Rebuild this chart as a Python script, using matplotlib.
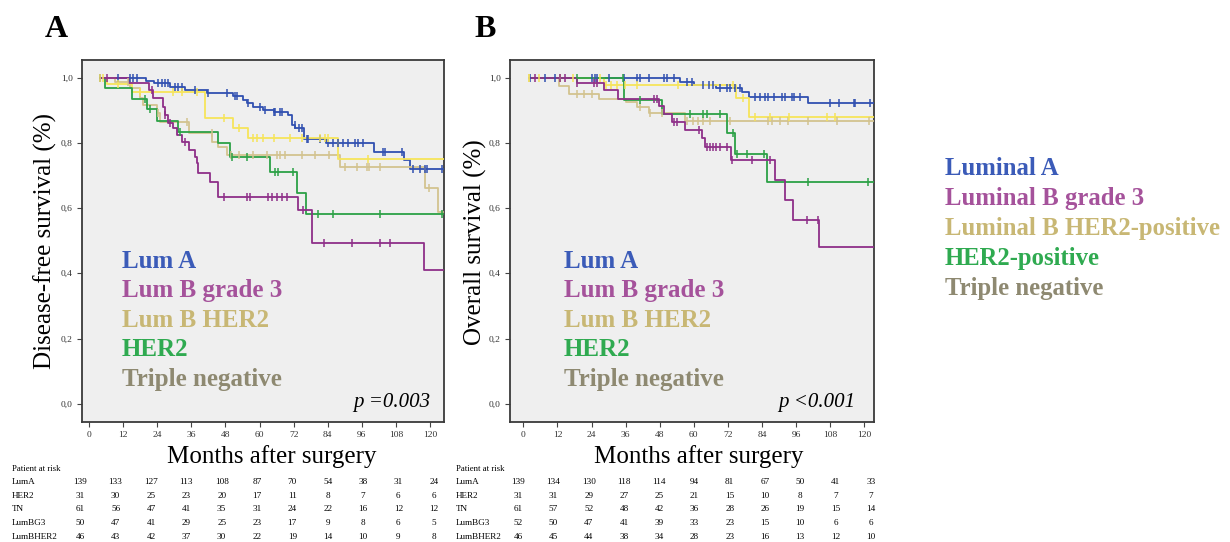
import numpy as np
import matplotlib
matplotlib.use("Agg")
import matplotlib.pyplot as plt

plt.rcParams['font.family'] = ['Liberation Serif', 'DejaVu Serif']

W, H = 1230, 542

# ---------------- data ----------------
groups = ["Lum A", "Lum B grade 3", "Lum B HER2", "HER2", "Triple negative"]
groups_long = ["Luminal A", "Luminal B grade 3", "Luminal B HER2-positive", "HER2-positive", "Triple negative"]
text_colors = ["#3B5BB8", "#A5529B", "#C8B774", "#2FAA50", "#8E8971"]

# Disease-free survival (panel A): step times / survival values
dfs_luma_t = [4, 20, 23, 28.5, 33.8, 41.4, 50.8, 54, 55.5, 57.8, 61.3, 64.9, 70, 71.4, 72.6, 75.5, 83.3, 100.2, 110.7, 113, 124.6]
dfs_luma_s = [1.0, 0.990, 0.983, 0.970, 0.962, 0.952, 0.944, 0.932, 0.921, 0.911, 0.901, 0.894, 0.886, 0.855, 0.845, 0.812, 0.799, 0.773, 0.748, 0.720, 0.720]
dfs_lumbg3_t = [4, 14, 21, 22.6, 26.1, 26.6, 27.7, 29.6, 31, 32.7, 35, 37.3, 37.9, 38.5, 42.6, 45.5, 73.5, 78.5, 117.7, 124.6]
dfs_lumbg3_s = [1.0, 0.985, 0.962, 0.937, 0.911, 0.886, 0.860, 0.845, 0.824, 0.804, 0.778, 0.758, 0.737, 0.707, 0.681, 0.634, 0.594, 0.493, 0.411, 0.411]
dfs_lumbher2_t = [4, 6.2, 15, 40.8, 50.7, 56, 87.5, 124.8]
dfs_lumbher2_s = [1.0, 0.979, 0.957, 0.875, 0.845, 0.814, 0.750, 0.750]
dfs_her2_t = [4, 5.6, 15, 20.3, 23.8, 31.4, 45.5, 49.6, 63.7, 73.2, 76.3, 124.6]
dfs_her2_s = [1.0, 0.967, 0.935, 0.904, 0.867, 0.832, 0.799, 0.758, 0.710, 0.645, 0.581, 0.581]
dfs_tn_t = [4, 9, 14.5, 18, 19.1, 23.9, 25.1, 35.3, 43.3, 45.5, 48.5, 88.4, 118.3, 122.8, 124.6]
dfs_tn_s = [1.0, 0.988, 0.967, 0.937, 0.916, 0.891, 0.865, 0.829, 0.804, 0.788, 0.763, 0.727, 0.663, 0.589, 0.589]

dfs_luma_c = [4, 10.3, 14.4, 15.6, 16.8, 24.4, 25.6, 26.7, 27.9, 30.3, 31.4, 32.6, 37.3, 42, 48.4, 51.4, 52,
              56, 60.2, 62, 64.9, 65.4, 67.2, 67.8, 72.5, 73.7, 74.8, 76.6, 77.2, 81.3, 84.2, 85.9, 87.7,
              89.5, 91.2, 93.6, 94.8, 96.5, 103.6, 104.2, 110, 114.1, 116.5, 118.3, 118.8, 124.1]
dfs_lumbg3_c = [6.2, 22, 26.7, 28.5, 33.8, 47.3, 55.5, 56.7, 63.1, 64.5, 66.2, 67.8, 69.6, 75.4, 82.5, 92.4, 102.4, 105.9]
dfs_lumbher2_c = [3.9, 4.9, 10.3, 17.9, 29.7, 32.6, 37.9, 47.3, 52.6, 57.8, 59, 61.3, 64.9, 70.7, 74.8, 81.3, 83, 84.2, 98]
dfs_her2_c = [19.7, 21.5, 32, 50.2, 55.5, 65.4, 66.6, 71.9, 80.7, 86, 102.4, 124.1]
dfs_tn_c = [13.8, 24.4, 34.4, 43.2, 50, 52.6, 57.8, 62.6, 66.2, 67.3, 69, 74.9, 79.6, 84.3, 90.2, 94.3, 97.8, 98.4, 102.5, 119.5]

# Overall survival (panel B)
os_luma_t = [2, 55, 60, 68, 77, 79.5, 100.4, 123.3]
os_luma_s = [1.0, 0.988, 0.978, 0.967, 0.957, 0.942, 0.921, 0.921]
os_lumbg3_t = [2, 18.9, 28.3, 33.5, 47.8, 49.6, 52.3, 57, 62.9, 63.8, 73, 88.5, 92.2, 95.1, 104, 123.3]
os_lumbg3_s = [1.0, 0.983, 0.962, 0.935, 0.913, 0.889, 0.864, 0.840, 0.814, 0.786, 0.748, 0.686, 0.625, 0.564, 0.482, 0.482]
os_lumbher2_t = [2, 28.3, 75, 79.3, 123.3]
os_lumbher2_s = [1.0, 0.978, 0.936, 0.880, 0.880]
os_her2_t = [2, 35.3, 49, 71.7, 74.6, 85.7, 123.3]
os_her2_s = [1.0, 0.932, 0.889, 0.829, 0.766, 0.681, 0.681]
os_tn_t = [2, 12.4, 15.9, 26.5, 36, 40, 44.1, 57, 123.3]
os_tn_s = [1.0, 0.975, 0.949, 0.935, 0.924, 0.911, 0.891, 0.866, 0.866]

os_luma_c = [2.5, 7.7, 11.3, 13, 24.2, 25.3, 25.9, 30, 35.3, 40, 41.2, 44.1, 49.4, 50.5, 52.9, 57.6, 59.4,
             63.4, 65.2, 66.9, 69.3, 71.6, 72.8, 74.5, 76.3, 81.6, 83.4, 85.2, 86.3, 88.1, 91, 92.2, 94.6,
             95.2, 97.5, 108, 111, 116.3, 116.9, 122.1]
os_lumbg3_c = [4.2, 13, 14.5, 18.9, 24.8, 26, 45.9, 47, 52.9, 54, 61.7, 64.6, 65.7, 66.9, 68, 69.2, 71.6, 73.4, 80.5, 86.9, 99.8, 103.6]
os_lumbher2_c = [1.9, 5.5, 13, 17.5, 27.1, 29, 30.8, 33, 35.8, 40, 54.6, 74, 77.5, 81.6, 86.9, 93.4, 106.9, 109.7]
os_her2_c = [18.9, 35, 41.2, 58.8, 63.4, 64.5, 69.3, 74, 75.2, 78.7, 84.6, 100.4, 121.5]
os_tn_c = [1.9, 18.9, 21.2, 24.2, 41.2, 44.5, 48.8, 57.6, 59.9, 61.6, 63.4, 65.8, 72.8, 86.3, 87.5, 90.4, 93.3, 100.4, 110.4, 121.8]

x_ticks = [0, 12, 24, 36, 48, 60, 72, 84, 96, 108, 120]
y_ticks = [0.0, 0.2, 0.4, 0.6, 0.8, 1.0]
y_tick_labels = ["0,0", "0,2", "0,4", "0,6", "0,8", "1,0"]

risk_rows = ["LumA", "HER2", "TN", "LumBG3", "LumBHER2"]
risk_a_luma = [139, 133, 127, 113, 108, 87, 70, 54, 38, 31, 24]
risk_a_her2 = [31, 30, 25, 23, 20, 17, 11, 8, 7, 6, 6]
risk_a_tn = [61, 56, 47, 41, 35, 31, 24, 22, 16, 12, 12]
risk_a_lumbg3 = [50, 47, 41, 29, 25, 23, 17, 9, 8, 6, 5]
risk_a_lumbher2 = [46, 43, 42, 37, 30, 22, 19, 14, 10, 9, 8]
risk_b_luma = [139, 134, 130, 118, 114, 94, 81, 67, 50, 41, 33]
risk_b_her2 = [31, 31, 29, 27, 25, 21, 15, 10, 8, 7, 7]
risk_b_tn = [61, 57, 52, 48, 42, 36, 28, 26, 19, 15, 14]
risk_b_lumbg3 = [52, 50, 47, 41, 39, 33, 23, 15, 10, 6, 6]
risk_b_lumbher2 = [46, 45, 44, 38, 34, 28, 23, 16, 13, 12, 10]

line_colors = {"luma": "#3150B0", "lumbg3": "#8E2F88", "lumbher2": "#F6E45A", "her2": "#2CA146", "tn": "#D3C38F"}

# ---------------- figure ----------------
fig = plt.figure(figsize=(W / 100, H / 100), dpi=100)


def fx(x):
    return x / W


def fy(y):
    return 1 - y / H


def draw_panel(ax, curves, xlim):
    ax.set_facecolor("#EFEFEF")
    for t, s, c, col in curves:
        ax.step(t, s, where="post", color=col, lw=1.3, zorder=3)
        t_arr = np.asarray(t)
        s_arr = np.asarray(s)
        idx = np.clip(np.searchsorted(t_arr, c, side="right") - 1, 0, len(s_arr) - 1)
        ax.plot(c, s_arr[idx], ls="none", marker="|", ms=5.5, mew=1.1, color=col, zorder=4)
    ax.set_xlim(*xlim)
    ax.set_ylim(-0.056, 1.054)
    ax.set_xticks(x_ticks)
    ax.set_xticklabels([str(v) for v in x_ticks])
    ax.set_yticks(y_ticks)
    ax.set_yticklabels(y_tick_labels)
    ax.tick_params(direction="out", length=3.5, width=0.8, color="#444444",
                   labelsize=6.8, labelcolor="#333333", pad=3)
    for sp in ax.spines.values():
        sp.set_color("#3a3a3a")
        sp.set_linewidth(1.3)


axA = fig.add_axes([fx(82), fy(422), (444 - 82) / W, (422 - 60) / H])
draw_panel(axA, [
    (dfs_luma_t, dfs_luma_s, dfs_luma_c, line_colors["luma"]),
    (dfs_tn_t, dfs_tn_s, dfs_tn_c, line_colors["tn"]),
    (dfs_lumbher2_t, dfs_lumbher2_s, dfs_lumbher2_c, line_colors["lumbher2"]),
    (dfs_her2_t, dfs_her2_s, dfs_her2_c, line_colors["her2"]),
    (dfs_lumbg3_t, dfs_lumbg3_s, dfs_lumbg3_c, line_colors["lumbg3"]),
], (-2.5, 124.9))

axB = fig.add_axes([fx(510), fy(422), (873.5 - 510) / W, (422 - 60) / H])
draw_panel(axB, [
    (os_luma_t, os_luma_s, os_luma_c, line_colors["luma"]),
    (os_tn_t, os_tn_s, os_tn_c, line_colors["tn"]),
    (os_lumbher2_t, os_lumbher2_s, os_lumbher2_c, line_colors["lumbher2"]),
    (os_her2_t, os_her2_s, os_her2_c, line_colors["her2"]),
    (os_lumbg3_t, os_lumbg3_s, os_lumbg3_c, line_colors["lumbg3"]),
], (-4.7, 123.3))

# panel letters
fig.text(fx(56), fy(37), "A", fontsize=23, fontweight="bold", ha="center", va="baseline")
fig.text(fx(485), fy(37), "B", fontsize=23, fontweight="bold", ha="center", va="baseline")

# axis labels
fig.text(fx(45), fy(241), "Disease-free survival (%)", fontsize=18, rotation=90, ha="center", va="center")
fig.text(fx(475), fy(242), "Overall survival (%)", fontsize=18, rotation=90, ha="center", va="center")
fig.text(fx(272), fy(463), "Months after surgery", fontsize=18, ha="center", va="baseline")
fig.text(fx(699), fy(463), "Months after surgery", fontsize=18, ha="center", va="baseline")

# in-plot legends
for left in (122, 564):
    for i, (g, c) in enumerate(zip(groups, text_colors)):
        fig.text(fx(left), fy(268 + 29.5 * i), g, fontsize=18, fontweight="bold",
                 color=c, ha="left", va="baseline")

# p-values
fig.text(fx(430), fy(407), "p =0.003", fontsize=15, style="italic", ha="right", va="baseline")
fig.text(fx(855), fy(407), "p <0.001", fontsize=15, style="italic", ha="right", va="baseline")

# right legend
for i, (g, c) in enumerate(zip(groups_long, text_colors)):
    fig.text(fx(945), fy(175 + 30 * i), g, fontsize=17.8, fontweight="bold",
             color=c, ha="left", va="baseline")

# at-risk tables
risk_a = [risk_a_luma, risk_a_her2, risk_a_tn, risk_a_lumbg3, risk_a_lumbher2]
risk_b = [risk_b_luma, risk_b_her2, risk_b_tn, risk_b_lumbg3, risk_b_lumbher2]
row_y = [482, 495.7, 509.4, 523.1, 536.8]
for lab_x, first_col, spacing, table in ((12, 80.3, 35.34, risk_a), (456, 518.3, 35.24, risk_b)):
    fig.text(fx(lab_x), fy(469), "Patient at risk", fontsize=6.3, ha="left", va="center")
    for r, (name, vals) in enumerate(zip(risk_rows, table)):
        fig.text(fx(lab_x), fy(row_y[r]), name, fontsize=6.6, ha="left", va="center")
        for k, v in enumerate(vals):
            fig.text(fx(first_col + spacing * k), fy(row_y[r]), str(v), fontsize=6.6,
                     ha="center", va="center")

fig.savefig("out.png", dpi=100)
